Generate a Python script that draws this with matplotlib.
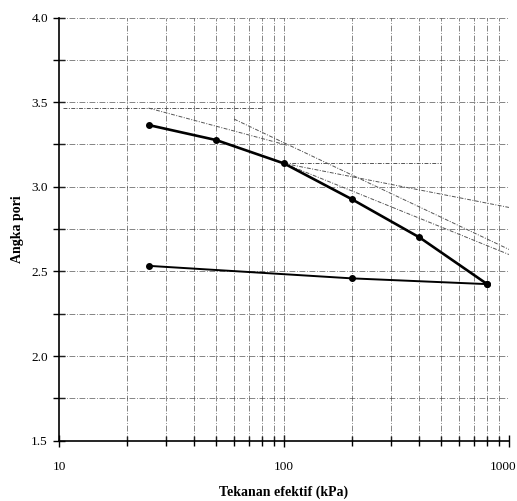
import matplotlib
matplotlib.use('Agg')
from matplotlib import pyplot as plt
from matplotlib.ticker import LogLocator, MultipleLocator, NullFormatter, FixedLocator, FixedFormatter
from matplotlib.transforms import ScaledTranslation

# consolidation test: void ratio vs effective stress
load_p = [25, 50, 100, 200, 400, 800]
load_e = [3.365, 3.276, 3.138, 2.927, 2.701, 2.425]
unload_p = [800, 200, 25]
unload_e = [2.425, 2.459, 2.533]

# Casagrande construction lines (p, e pairs)
line_e0 = ([10.4, 80], [3.465, 3.465])
line_a = ([25, 103], [3.465, 3.246])
line_b = ([60, 1000], [3.40, 2.63])
horiz = ([100, 500], [3.138, 3.138])
tangent = ([100, 1000], [3.138, 2.60])
bisector = ([100, 1000], [3.138, 2.878])

x_ticks = [10, 100, 1000]
x_labels = ['10', '100', '1000']
y_ticks = [1.5, 2.0, 2.5, 3.0, 3.5, 4.0]

plt.rcParams['font.family'] = 'Liberation Serif'

fig = plt.figure(figsize=(5.17, 5.01), dpi=100)
ax = fig.add_axes([0.1141, 0.1204, 0.8704, 0.8446])

ax.set_xscale('log')
ax.set_xlim(10, 1000)
ax.set_ylim(1.5, 4.0)

# dash-dot grid on minor log positions and every 0.25
grid_style = dict(color='#333333', lw=0.6, linestyle=(0, (7, 2, 1, 2)), alpha=0.7)
for p in [20, 30, 40, 50, 60, 70, 80, 90, 100, 200, 300, 400, 500, 600, 700, 800, 900]:
    ax.axvline(p, **grid_style)
for e in [1.75, 2.0, 2.25, 2.5, 2.75, 3.0, 3.25, 3.5, 3.75, 4.0]:
    ax.axhline(e, **grid_style)

cons = dict(color='#555555', lw=0.7, linestyle=(0, (4, 1.5, 1, 1.5)))
for xs, ys in [line_e0, line_a, line_b, horiz, tangent, bisector]:
    ax.plot(xs, ys, **cons)

ax.plot(load_p, load_e, color='black', lw=1.9, marker='o', ms=4, zorder=5)
ax.plot(unload_p, unload_e, color='black', lw=1.4, marker='o', ms=4, zorder=5)

for s in ['top', 'right']:
    ax.spines[s].set_visible(False)
ax.spines['left'].set_linewidth(1.2)
ax.spines['bottom'].set_linewidth(1.2)

ax.xaxis.set_major_locator(FixedLocator(x_ticks))
ax.xaxis.set_major_formatter(FixedFormatter(x_labels))
ax.xaxis.set_minor_locator(LogLocator(base=10, subs=range(2, 10)))
ax.xaxis.set_minor_formatter(NullFormatter())
ax.yaxis.set_major_locator(FixedLocator(y_ticks))
ax.yaxis.set_minor_locator(MultipleLocator(0.25))
ax.set_yticklabels(['%.1f' % v for v in y_ticks])

ax.tick_params(axis='both', which='both', direction='inout', colors='black', labelsize=9.5)
ax.tick_params(axis='x', which='major', length=9, width=1.0, pad=10)
ax.tick_params(axis='x', which='minor', length=7, width=1.0)
ax.tick_params(axis='y', which='major', length=8, width=1.0, pad=4)
ax.tick_params(axis='y', which='minor', length=8, width=1.0)

# keep the last x label inside the figure edge
last = ax.get_xticklabels()[-1]
last.set_horizontalalignment('right')
last.set_transform(last.get_transform() + ScaledTranslation(0.07, 0, fig.dpi_scale_trans))

ax.set_xlabel('Tekanan efektif (kPa)', fontsize=10, fontweight='bold', labelpad=9)
ax.set_ylabel('Angka pori', fontsize=10, fontweight='bold', labelpad=5)

fig.savefig('out.png', dpi=100)
